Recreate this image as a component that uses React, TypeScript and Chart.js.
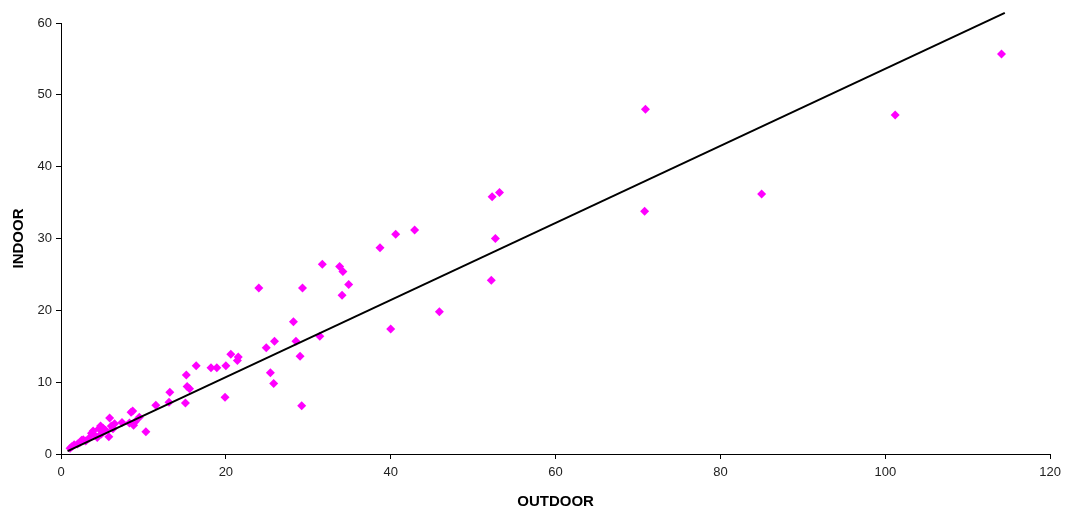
import React, { useEffect, useRef } from "react";
import { Chart, registerables } from "chart.js";

Chart.register(...registerables);

const outdoor = [
  114.1, 101.2, 85.0, 70.9, 70.8, 53.2, 52.3, 52.7, 52.2, 45.9,
  42.9, 40.6, 38.7, 40.0, 34.9, 34.2, 33.8, 34.1, 31.7, 31.4,
  29.3, 29.0, 29.2, 28.2, 28.5, 25.9, 24.9, 25.4, 25.8, 24.0,
  21.5, 21.4, 20.6, 20.0, 19.9, 18.9, 18.2, 16.4, 15.3, 15.6,
  15.2, 15.1, 13.2, 13.1, 11.5, 10.3, 9.5, 9.0, 8.7, 8.5,
  8.8, 8.3, 7.4, 6.5, 6.3, 5.9, 5.8, 5.4, 5.1, 4.9,
  4.6, 4.4, 4.0, 3.7, 3.4, 3.0, 2.7, 2.3, 2.0, 1.6,
  1.3, 1.1, 3.9, 4.8, 2.5, 6.1,
];
const indoor = [
  55.7, 47.2, 36.2, 48.0, 33.8, 36.4, 35.8, 30.0, 24.2, 19.8,
  31.2, 30.6, 28.7, 17.4, 23.6, 25.4, 26.1, 22.1, 26.4, 16.4,
  23.1, 13.6, 6.7, 18.4, 15.7, 15.7, 14.8, 11.3, 9.8, 23.1,
  13.5, 13.0, 13.9, 12.3, 7.9, 12.0, 12.0, 12.3, 9.4, 9.1,
  11.0, 7.1, 8.6, 7.2, 6.8, 3.1, 5.1, 4.5, 6.0, 5.8,
  4.0, 4.3, 4.4, 4.2, 3.5, 5.0, 2.4, 3.3, 3.6, 2.8,
  3.5, 2.3, 2.7, 2.9, 2.2, 1.8, 2.0, 1.6, 1.4, 1.3,
  1.0, 0.8, 3.2, 3.9, 1.9, 3.9,
];
const trendX = [0.8, 114.5];
const trendY = [0.4, 61.4];

const xTicks = [0, 20, 40, 60, 80, 100, 120];
const yTicks = [0, 10, 20, 30, 40, 50, 60];

export default function App() {
  const ref = useRef<HTMLCanvasElement | null>(null);
  useEffect(() => {
    if (!ref.current) return;
    const font = "'Liberation Sans', Arial, sans-serif";
    const chart = new Chart(ref.current, {
      type: "scatter",
      data: {
        datasets: [
          {
            label: "points",
            data: outdoor.map((x, i) => ({ x, y: indoor[i] })),
            pointStyle: "rectRot",
            pointRadius: 4.5,
            backgroundColor: "#FF00FF",
            borderColor: "#FF00FF",
            borderWidth: 0,
            order: 2,
          },
          {
            label: "trend",
            type: "line",
            data: trendX.map((x, i) => ({ x, y: trendY[i] })),
            borderColor: "#000000",
            borderWidth: 2,
            pointRadius: 0,
            fill: false,
            clip: false,
            order: 1,
          },
        ],
      },
      options: {
        animation: false,
        responsive: false,
        layout: { padding: { left: 3, right: 16, top: 23, bottom: 0 } },
        plugins: { legend: { display: false }, tooltip: { enabled: false } },
        scales: {
          x: {
            type: "linear",
            min: 0,
            max: 120,
            afterBuildTicks: (s: any) => {
              s.ticks = xTicks.map((v) => ({ value: v }));
            },
            afterFit: (s: any) => {
              s.height = 57;
            },
            grid: {
              drawOnChartArea: false,
              drawTicks: true,
              tickLength: 5,
              color: "#000",
            },
            border: { color: "#000", width: 1 },
            ticks: { color: "#222", font: { family: font, size: 13 }, padding: 6, maxRotation: 0 },
            title: {
              display: true,
              text: "OUTDOOR",
              color: "#000",
              font: { family: font, size: 15, weight: "bold" },
              padding: { top: 4, bottom: 0 },
            },
          },
          y: {
            type: "linear",
            min: 0,
            max: 60,
            afterBuildTicks: (s: any) => {
              s.ticks = yTicks.map((v) => ({ value: v }));
            },
            afterFit: (s: any) => {
              s.width = 58;
            },
            grid: {
              drawOnChartArea: false,
              drawTicks: true,
              tickLength: 5,
              color: "#000",
            },
            border: { color: "#000", width: 1 },
            ticks: { color: "#222", font: { family: font, size: 13 }, padding: 4 },
            title: {
              display: true,
              text: "INDOOR",
              color: "#000",
              font: { family: font, size: 15, weight: "bold" },
              padding: { top: 7, bottom: 0 },
            },
          },
        },
      },
    } as any);
    return () => chart.destroy();
  }, []);
  return (
    <div style={{ position: "fixed", left: 0, top: 0, width: 1067, height: 511, background: "#fff" }}>
      <canvas ref={ref} width={1067} height={511} style={{ width: 1067, height: 511 }} />
    </div>
  );
}
